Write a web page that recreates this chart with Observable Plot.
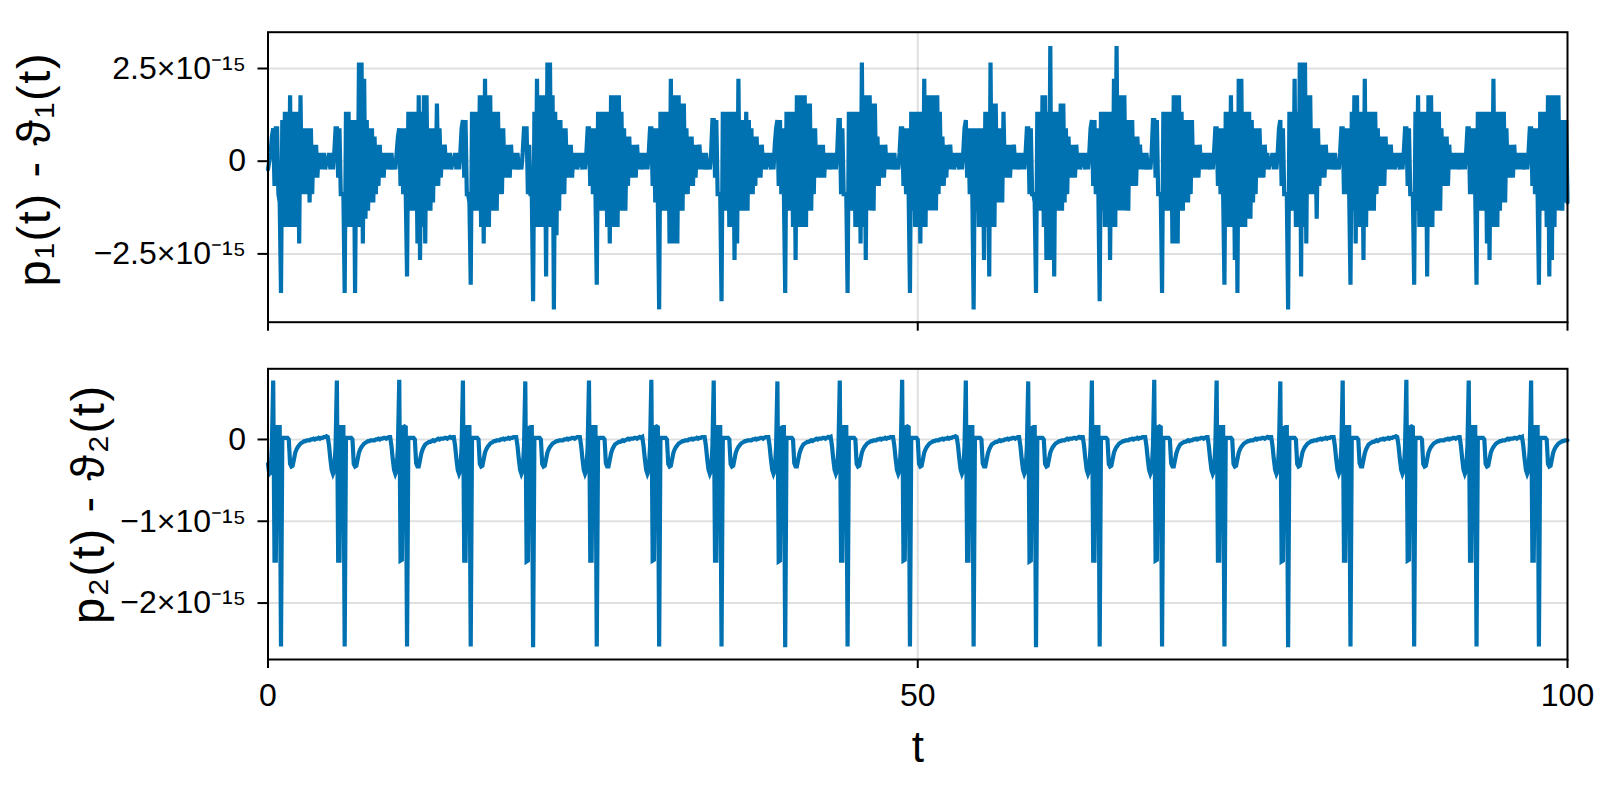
<!DOCTYPE html>
<html><head><meta charset="utf-8">
<script src="https://cdn.jsdelivr.net/npm/d3@7"></script>
<script src="https://cdn.jsdelivr.net/npm/@observablehq/plot@0.6"></script>
<style>
html,body{margin:0;padding:0;background:#fff;}
#chart{width:1600px;height:800px;overflow:hidden;}
#chart svg{display:block;}
</style></head><body><div id="chart"></div>
<script>
// ---------- data (sampled every 0.1 in t, 0..100) ----------
const tStep = 0.1;
// top panel: p1(t) - theta1(t), in units of machine epsilon (2.220446e-16)
const epsUnit = 2.220446049250313e-16;
const p1Units = [
-1,0,1,3,4,-3,4,4,-4,-5,-16,5,-8,6,-8,6,-8,8,-8,6,-8,6,-8,6,-10,8,-4,4,-4,4,-4,4,-5,4,-4,2,-2,2,-2,1,-1,1,-1,1,-1,0,
0,1,-1,1,-1,1,4,4,-2,4,-4,-4,-4,-16,6,-8,6,-8,5,-8,5,-16,5,-8,12,-8,12,-10,10,-7,5,-6,4,-5,4,-5,3,-4,2,-3,2,-2,1,-2,1,-1,1,-1,
0,1,-1,0,-1,1,3,4,-3,4,-4,4,-4,-14,6,-6,6,-6,6,-6,6,-10,8,-12,6,-8,8,-10,8,-6,4,-6,4,-5,4,-3,7,-3,4,-2,2,-1,2,-1,1,-1,1,-1,0,
0,1,-1,1,-1,1,4,5,-2,5,-4,-4,-5,-15,6,-6,6,-6,6,-6,8,-8,8,-10,10,-8,8,-8,8,-6,6,-6,6,-6,6,-4,4,-4,4,-2,2,-2,2,-2,2,-1,1,-1,
0,1,-1,0,-1,1,4,4,4,-4,2,-4,-4,-17,6,-8,10,-8,8,-8,8,-8,8,-14,12,-8,12,-8,8,-18,6,-9,5,-6,5,-4,4,-4,4,-2,2,-2,2,-2,1,-1,1,-1,0,
1,0,-1,1,-1,1,4,4,-3,4,-4,4,-4,-15,6,-6,6,-6,6,-6,6,-8,6,-10,8,-8,8,-8,8,-8,8,-6,6,-6,4,-6,3,-3,3,-2,2,-2,2,-2,2,-1,1,-1,
0,1,-1,1,-1,1,4,4,-3,4,-5,4,-5,-18,6,-6,6,-6,6,-6,6,-10,10,-10,8,-10,8,-10,8,-6,7,-6,7,-4,4,-4,3,-3,3,-3,2,-2,2,-1,2,-1,1,-1,
0,1,-1,0,-1,1,5,5,-2,5,-4,-4,-4,-17,6,-6,6,-6,6,-8,6,-8,6,-12,6,-10,10,-6,5,-6,5,-6,6,-6,5,-4,4,-4,3,-3,3,-2,2,-2,2,-1,1,-1,0,
1,0,-1,1,-1,2,4,5,-3,5,-4,4,-4,-16,6,-6,6,-6,6,-8,6,-12,8,-8,8,-8,8,-8,8,-8,7,-6,7,-6,4,-4,4,-2,2,-2,2,-2,2,-2,1,-1,1,-1,
0,1,-1,1,-1,1,5,5,-4,4,-4,-4,-4,-16,6,-6,6,-6,6,-8,6,-8,6,-10,12,-8,8,-12,8,-6,8,-6,7,-6,7,-3,3,-3,2,-2,2,-2,2,-1,1,-1,1,-1,
0,1,-1,0,-1,1,4,4,-3,4,-4,4,-4,-16,6,-6,6,-8,6,-8,6,-10,6,-8,10,-8,8,-6,8,-6,8,-6,8,-6,8,-4,6,-3,3,-3,2,-2,2,-1,2,-1,1,-1,0,
1,0,-1,1,-1,1,4,5,-2,4,-4,4,-4,-18,4,-6,4,-8,4,-8,4,-12,6,-8,6,-14,12,-8,7,-8,7,-5,4,-5,4,-5,6,-2,2,-2,2,-2,2,-1,2,-1,1,-1,
0,1,-1,1,-1,1,4,4,-4,4,-4,-4,-5,-16,6,-6,6,-6,8,-8,8,-12,6,-12,14,-12,6,-14,6,-6,6,-6,7,-6,7,-5,4,-4,3,-2,2,-2,2,-2,2,-1,1,-1,0,
1,0,-1,1,-1,1,4,5,-3,5,-4,4,-4,-17,6,-6,6,-8,6,-8,6,-12,6,-8,10,-8,14,-6,8,-6,8,-6,8,-6,5,-6,5,-3,5,-3,3,-3,3,-1,2,-1,1,-1,
0,1,-1,0,-1,1,5,5,-2,5,-4,-4,-4,-16,6,-6,6,-6,6,-6,6,-10,8,-10,8,-10,8,-6,6,-6,5,-5,5,-5,5,-4,5,-2,2,-2,2,-2,2,-1,1,-1,1,-1,
1,0,-1,1,-1,1,4,4,-3,4,-4,4,-4,-15,6,-8,6,-8,8,-8,6,-12,6,-16,10,-8,10,-8,6,-8,6,-7,6,-7,5,-5,4,-4,4,-2,4,-2,2,-2,2,-1,1,-1,0,
0,1,-1,1,-1,1,4,5,-3,4,-4,-4,-4,-18,6,-6,6,-6,10,-8,6,-8,12,-14,12,-8,12,-10,8,-4,8,-4,4,-4,4,-7,4,-3,2,-2,2,-2,2,-1,1,-1,1,-1,
0,1,-1,0,-1,1,4,4,-4,4,-4,4,-4,-15,6,-6,8,-10,8,-8,6,-8,6,-12,10,-8,6,-6,6,-6,6,-6,6,-4,4,-3,3,-3,3,-3,3,-1,2,-1,2,-1,1,-1,0,
1,0,-1,1,-1,1,4,4,-3,4,-4,-4,-4,-15,6,-6,8,-8,6,-8,6,-8,6,-14,8,-8,8,-8,6,-6,6,-6,6,-6,4,-3,3,-3,3,-3,2,-1,1,-1,1,-1,1,-1,
0,1,-1,1,-1,1,4,4,-4,4,-4,4,-4,-15,6,-6,6,-6,6,-6,6,-10,6,-12,6,-8,10,-8,6,-8,6,-6,6,-5,6,-5,4,-2,2,-2,2,-2,2,-1,1,-1,1,-1,
1,0,-1,1,-1,1,4,4,-3,4,-4,4,-4,-15,6,-6,6,-6,6,-8,8,-14,8,-12,8,-8,8,-6,8,-6,5,-6,5,-5,5,-5
];
// bottom panel: p2(t) - theta2(t), in units of 1e-17
const p2Unit = 1e-17;
const p2Units = [
-30,-42,-40,-8,72,-148,-148,15,15,15,-253,2,2,2,2,2,0,-30,-33,-32,-24,-16,-12,-9,-7,-5,-4,-3,-2,-2,-1,-1,-1,0,0,1,0,1,1,2,1,2,2,3,3,4,
3,-8,-24,-37,-42,-38,-8,72,-148,-148,15,15,15,-253,2,2,2,2,2,0,-30,-33,-32,-24,-16,-12,-9,-7,-5,-4,-3,-2,-2,-1,-1,-1,-1,0,0,1,0,1,1,2,2,1,2,3,
3,-8,-24,-37,-42,-38,-8,73,-148,-147,15,16,15,-253,2,2,2,2,2,0,-29,-33,-33,-25,-17,-12,-9,-6,-5,-4,-3,-3,-2,-1,-2,-1,0,1,0,1,1,1,2,2,1,2,3,2,3,
3,-8,-24,-37,-42,-38,-8,72,-148,-148,15,15,15,-253,2,2,2,2,2,0,-30,-33,-32,-24,-16,-12,-9,-7,-5,-4,-3,-2,-2,-1,-1,-1,0,0,1,0,1,1,2,1,2,2,3,3,
3,-8,-24,-37,-42,-38,-8,71,-149,-148,14,15,15,-254,2,2,2,2,2,0,-30,-33,-32,-24,-16,-12,-9,-7,-5,-4,-3,-2,-2,-1,-1,-1,-1,0,0,1,0,1,1,2,2,1,2,3,3,
3,-8,-24,-37,-42,-38,-8,72,-148,-148,15,15,15,-253,2,2,2,2,2,0,-29,-33,-33,-25,-17,-12,-9,-6,-5,-4,-3,-3,-2,-1,-2,-1,0,1,0,1,1,1,2,2,1,2,3,2,
3,-8,-24,-37,-42,-38,-8,73,-148,-147,15,16,15,-253,2,2,2,2,2,0,-30,-33,-32,-24,-16,-12,-9,-7,-5,-4,-3,-2,-2,-1,-1,-1,0,0,1,0,1,1,2,1,2,2,3,3,
3,-8,-24,-37,-42,-38,-8,72,-148,-148,15,15,15,-253,2,2,2,2,2,0,-30,-33,-32,-24,-16,-12,-9,-7,-5,-4,-3,-2,-2,-1,-1,-1,-1,0,0,1,0,1,1,2,2,1,2,3,3,
3,-8,-24,-37,-42,-38,-8,71,-149,-148,14,15,15,-254,2,2,2,2,2,0,-29,-33,-33,-25,-17,-12,-9,-6,-5,-4,-3,-3,-2,-1,-2,-1,0,1,0,1,1,1,2,2,1,2,3,2,
3,-8,-24,-37,-42,-38,-8,72,-148,-148,15,15,15,-253,2,2,2,2,2,0,-30,-33,-32,-24,-16,-12,-9,-7,-5,-4,-3,-2,-2,-1,-1,-1,0,0,1,0,1,1,2,1,2,2,3,3,
3,-8,-24,-37,-42,-38,-8,73,-148,-147,15,16,15,-253,2,2,2,2,2,0,-30,-33,-32,-24,-16,-12,-9,-7,-5,-4,-3,-2,-2,-1,-1,-1,0,0,1,0,1,1,2,1,2,2,3,3,4,
3,-8,-24,-37,-42,-38,-8,72,-148,-148,15,15,15,-253,2,2,2,2,2,0,-29,-33,-33,-25,-17,-12,-9,-6,-5,-4,-3,-3,-2,-1,-2,-1,-1,0,0,1,0,1,1,2,2,1,2,3,
3,-8,-24,-37,-42,-38,-8,71,-149,-148,14,15,15,-254,2,2,2,2,2,0,-30,-33,-32,-24,-16,-12,-9,-7,-5,-4,-3,-2,-2,-1,-1,-1,0,1,0,1,1,1,2,2,1,2,3,2,3,
3,-8,-24,-37,-42,-38,-8,72,-148,-148,15,15,15,-253,2,2,2,2,2,0,-30,-33,-32,-24,-16,-12,-9,-7,-5,-4,-3,-2,-2,-1,-1,-1,0,0,1,0,1,1,2,1,2,2,3,3,
3,-8,-24,-37,-42,-38,-8,73,-148,-147,15,16,15,-253,2,2,2,2,2,0,-29,-33,-33,-25,-17,-12,-9,-6,-5,-4,-3,-3,-2,-1,-2,-1,-1,0,0,1,0,1,1,2,2,1,2,3,
3,-8,-24,-37,-42,-38,-8,72,-148,-148,15,15,15,-253,2,2,2,2,2,0,-30,-33,-32,-24,-16,-12,-9,-7,-5,-4,-3,-2,-2,-1,-1,-1,0,1,0,1,1,1,2,2,1,2,3,2,3,
3,-8,-24,-37,-42,-38,-8,71,-149,-148,14,15,15,-254,2,2,2,2,2,0,-30,-33,-32,-24,-16,-12,-9,-7,-5,-4,-3,-2,-2,-1,-1,-1,0,0,1,0,1,1,2,1,2,2,3,3,
3,-8,-24,-37,-42,-38,-8,72,-148,-148,15,15,15,-253,2,2,2,2,2,0,-29,-33,-33,-25,-17,-12,-9,-6,-5,-4,-3,-3,-2,-1,-2,-1,0,0,1,0,1,1,2,1,2,2,3,3,4,
3,-8,-24,-37,-42,-38,-8,73,-148,-147,15,16,15,-253,2,2,2,2,2,0,-30,-33,-32,-24,-16,-12,-9,-7,-5,-4,-3,-2,-2,-1,-1,-1,-1,0,0,1,0,1,1,2,2,1,2,3,
3,-8,-24,-37,-42,-38,-8,72,-148,-148,15,15,15,-253,2,2,2,2,2,0,-30,-33,-32,-24,-16,-12,-9,-7,-5,-4,-3,-2,-2,-1,-1,-1,0,1,0,1,1,1,2,2,1,2,3,2,
3,-8,-24,-37,-42,-38,-8,72,-148,-148,15,15,15,-253,2,2,2,2,2,0,-30,-33,-32,-24,-16,-12,-9,-7,-5,-4,-3,-2,-2,-1,-1,-1
];
// axes
const xDomain = [0, 100];
const xTicks = [0, 50, 100];
const yDomainTop = [-4.342e-15, 3.479e-15];
const yTicksTop = [-2.5e-15, 0, 2.5e-15];
const yTickLabelsTop = ["\u22122.5\u00d710\u207b\u00b9\u2075", "0", "2.5\u00d710\u207b\u00b9\u2075"];
const yDomainBottom = [-2.690e-15, 0.864e-15];
const yTicksBottom = [-2e-15, -1e-15, 0];
const yTickLabelsBottom = ["\u22122\u00d710\u207b\u00b9\u2075", "\u22121\u00d710\u207b\u00b9\u2075", "0"];
const yLabelTop = "p\u2081(t) - \u03d1\u2081(t)";
const yLabelBottom = "p\u2082(t) - \u03d1\u2082(t)";
const xLabel = "t";

// ---------- build ----------
const topData = p1Units.map((u, i) => ({t: i * tStep, v: u * epsUnit}));
const bottomData = p2Units.map((u, i) => ({t: i * tStep, v: u * p2Unit}));

const FONT = "'Liberation Sans', Arial, Helvetica, sans-serif";
const LINE = "#0072b2";
const ML = 267.5, MR = 33;

function panel({data, height, mt, mb, yDomain, yTicks, yLabels, yLabel, labelDx, labelDy, showX}) {
  const marks = [
    Plot.ruleY(yTicks, {stroke: "#000", strokeOpacity: 0.12, strokeWidth: 2}),
    Plot.ruleX([50], {stroke: "#000", strokeOpacity: 0.12, strokeWidth: 2}),
    Plot.line(data, {x: "t", y: "v", stroke: LINE, strokeWidth: 4.2, strokeLinejoin: "miter", strokeMiterlimit: 4}),
    Plot.frame({stroke: "#000", strokeWidth: 2}),
    Plot.axisY({ticks: yTicks, tickFormat: d => yLabels[yTicks.indexOf(d)], tickSize: 10, tickPadding: 12,
      fontSize: 32, strokeWidth: 2, label: null}),
    Plot.axisX({ticks: xTicks, tickFormat: d => showX ? String(d) : "", tickSize: 9, tickPadding: 15,
      fontSize: 32, strokeWidth: 2, label: null}),
    Plot.text([yLabel], {frameAnchor: "left", textAnchor: "middle", lineAnchor: "middle", rotate: -90,
      dx: labelDx, dy: labelDy, fontSize: 47, fill: "#000"})
  ];
  if (showX) marks.push(Plot.text([xLabel], {frameAnchor: "bottom", textAnchor: "middle", lineAnchor: "middle",
    dy: 88, fontSize: 44, fill: "#000"}));
  const svg = Plot.plot({
    width: 1600, height,
    marginLeft: ML, marginRight: MR, marginTop: mt, marginBottom: mb,
    style: {fontFamily: FONT, background: "#fff", color: "#000", overflow: "visible"},
    x: {domain: xDomain},
    y: {domain: yDomain},
    marks
  });
  svg.querySelectorAll("text").forEach(el => {
    if (el.textContent === yLabel) el.setAttribute("letter-spacing", "1.6");
  });
  return svg;
}

const chart = document.getElementById("chart");
chart.append(panel({data: topData, height: 345, mt: 31.7, mb: 23.3, yDomain: yDomainTop, yTicks: yTicksTop,
  yLabels: yTickLabelsTop, yLabel: yLabelTop, labelDx: -233, labelDy: -8, showX: false}));
chart.append(panel({data: bottomData, height: 455, mt: 23.3, mb: 141, yDomain: yDomainBottom, yTicks: yTicksBottom,
  yLabels: yTickLabelsBottom, yLabel: yLabelBottom, labelDx: -179, labelDy: -10, showX: true}));
</script></body></html>
